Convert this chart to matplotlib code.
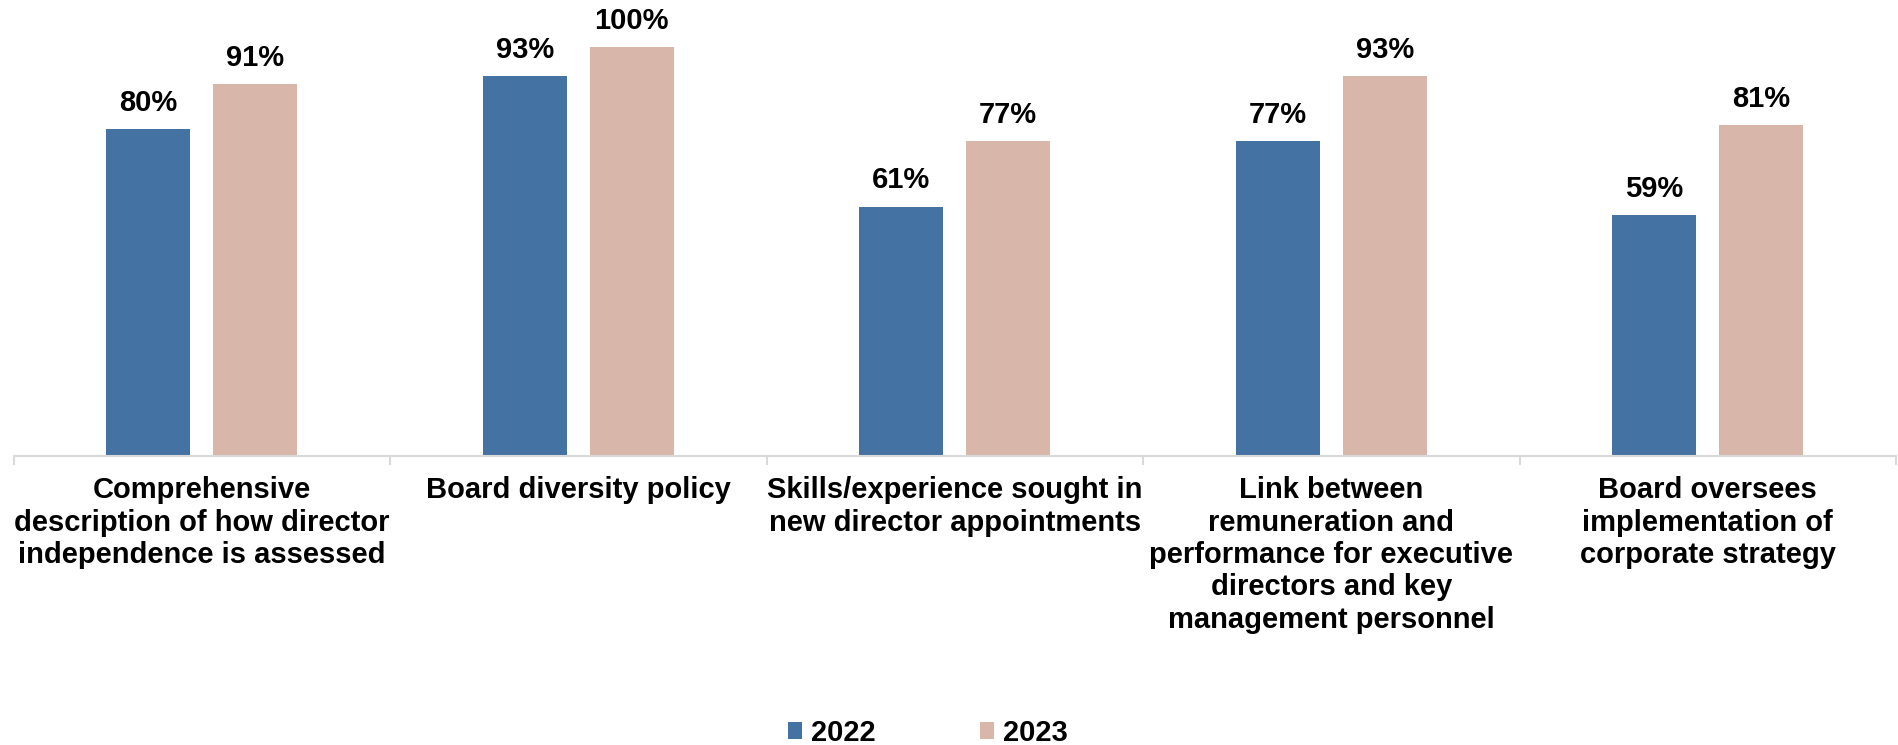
import matplotlib
matplotlib.use("Agg")
import matplotlib.pyplot as plt
from matplotlib.patches import Patch
import numpy as np

plt.rcParams['font.family'] = ['Liberation Sans', 'DejaVu Sans']

categories = [
    "Comprehensive\ndescription of how director\nindependence is assessed",
    "Board diversity policy",
    "Skills/experience sought in\nnew director appointments",
    "Link between\nremuneration and\nperformance for executive\ndirectors and key\nmanagement personnel",
    "Board oversees\nimplementation of\ncorporate strategy",
]
years = ["2022", "2023"]
values_2022 = [80, 93, 61, 77, 59]
values_2023 = [91, 100, 77, 93, 81]

colors = {"2022": "#4372A3", "2023": "#D8B7AA"}

fig = plt.figure(figsize=(18.98, 7.45), dpi=100)
ax = fig.add_axes([13.7 / 1898, 289 / 745, (1896 - 13.7) / 1898, 456 / 745])

x = np.arange(len(categories))
width = 0.223
offset = 0.142

bars_a = ax.bar(x - offset, values_2022, width, color=colors["2022"], label="2022")
bars_b = ax.bar(x + offset, values_2023, width, color=colors["2023"], label="2023")

for bars, vals in ((bars_a, values_2022), (bars_b, values_2023)):
    for b, v in zip(bars, vals):
        ax.annotate(f"{v}%", (b.get_x() + b.get_width() / 2, v),
                    xytext=(0, 13), textcoords="offset points",
                    ha="center", va="baseline", fontsize=21, fontweight="bold")

ax.set_xlim(-0.5, len(categories) - 0.5)
ax.set_ylim(0, 111.5)

for s in ("top", "right", "left"):
    ax.spines[s].set_visible(False)
ax.spines["bottom"].set_color("#D9D9D9")
ax.spines["bottom"].set_linewidth(1.5)
ax.set_yticks([])

# category boundaries as major ticks, labels on minor ticks at centres
ax.set_xticks(np.arange(-0.5, len(categories)), labels=[""] * (len(categories) + 1))
ax.tick_params(axis="x", which="major", length=6.5, width=1.5, color="#D9D9D9", direction="out")
ax.set_xticks(x, labels=categories, minor=True)
ax.tick_params(axis="x", which="minor", length=0, pad=14.5, labelsize=21)
for lbl in ax.get_xticklabels(minor=True):
    lbl.set_fontweight("bold")
    lbl.set_ha("center")
    lbl.set_multialignment("center")

handles = [Patch(facecolor=colors[y], label=y) for y in years]
fig.legend(handles=handles, loc="center", bbox_to_anchor=(927.5 / 1898, 12 / 745),
           ncol=2, frameon=False, handlelength=0.5, handleheight=0.5,
           handletextpad=0.29, columnspacing=3.57, borderpad=0,
           prop={"size": 21, "weight": "bold"})

fig.savefig("out.png", dpi=100)
